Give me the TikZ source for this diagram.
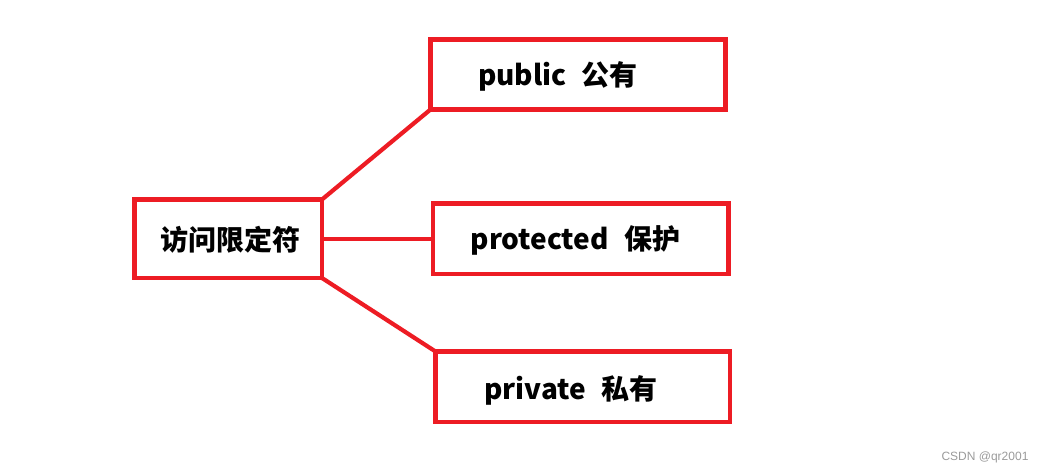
\documentclass[tikz,border=0pt]{standalone}
\usepackage{fontspec}
\usepackage{tikz}
\usetikzlibrary{positioning}
\newfontfamily\cjk{Noto Sans CJK SC}
\newfontfamily\markfont{Liberation Sans}
\definecolor{BoxRed}{HTML}{ED1C24}
\definecolor{Mark}{HTML}{9A9A9A}

\begin{document}
\begin{tikzpicture}[
  x=1pt, y=-1pt,
  box/.style={draw=BoxRed, line width=4.2pt, outer sep=0pt, inner sep=0pt},
  word/.style={font=\cjk\bfseries\fontsize{28}{31}\selectfont, text=black, inner sep=0pt},
  link/.style={draw=BoxRed, line width=4.2pt}
]
\useasboundingbox (0,0) rectangle (1043,473);

\node[box, minimum width=187.5pt, minimum height=78.5pt] (root) at (228.25,238.75) {};
\node[box, minimum width=295pt, minimum height=70pt] (pub) at (578,74.5) {};
\node[box, minimum width=295.5pt, minimum height=70.5pt] (prot) at (580.75,238.75) {};
\node[box, minimum width=294.5pt, minimum height=70.5pt] (priv) at (582.75,386.75) {};

\node[word] (rootText) at (230.5,239.5) {访问限定符};
\node[word] (pubText) at (558,76) {public\hspace{0.55em}公有};
\node[word] (protText) at (575.5,240) {protected\hspace{0.55em}保护};
\node[word] (privText) at (571,390) {private\hspace{0.55em}私有};

\draw[link] (root.north east) -- (pub.south west);
\draw[link] (root.east) -- (prot.west);
\draw[link] (root.south east) -- (priv.north west);

\node[font=\markfont\fontsize{12}{14}\selectfont, text=Mark, inner sep=0pt] (mark) at (985,457) {CSDN @qr2001};
\end{tikzpicture}
\end{document}
